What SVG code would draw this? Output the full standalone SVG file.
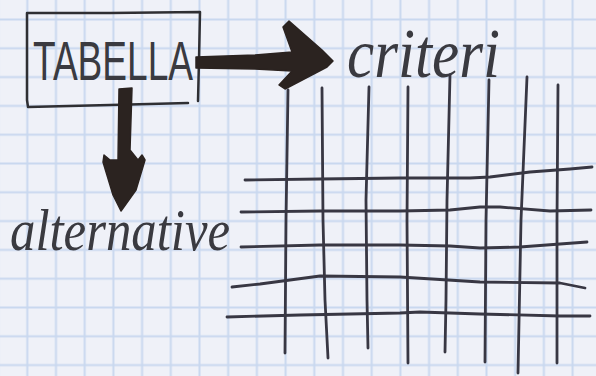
<svg xmlns="http://www.w3.org/2000/svg" width="596" height="376" viewBox="0 0 596 376">
  <defs>
    <pattern id="grid" patternUnits="userSpaceOnUse" x="12.95" y="5.1" width="28.7" height="28.8">
      <path d="M14.35,0 V28.8 M0,14.4 H28.7" stroke="#c9d8ef" stroke-width="2" fill="none"/>
    </pattern>
    <style>
      .ink { fill: none; stroke: #383743; stroke-width: 2.8; stroke-linecap: round; stroke-linejoin: round; }
      .pen { fill: none; stroke: #2f2f33; stroke-width: 2.5; stroke-linecap: round; stroke-linejoin: round; }
      .hand { font-family: "Liberation Serif", serif; font-style: italic; fill: #3a3a40; }
      .caps { font-family: "Liberation Sans", sans-serif; fill: #3a3a40; }
      .arrow { fill: #2b2320; stroke: #2b2320; stroke-width: 1.5; stroke-linejoin: round; }
    </style>
  </defs>

  <rect width="596" height="376" fill="#eff1f8"/>
  <rect width="596" height="376" fill="url(#grid)"/>

  <g id="node-tabella">
    <path class="pen" d="M27,13 L110,13 L200,12 L199,60 L198,101 M27,13 L27,100 L28,107 L110,105 L188,103"/>
    <text class="caps" x="33" y="80" font-size="56" textLength="160" lengthAdjust="spacingAndGlyphs">TABELLA</text>
  </g>

  <g id="node-criteri">
    <text class="hand" x="347" y="77" font-size="70" textLength="153" lengthAdjust="spacingAndGlyphs">criteri</text>
  </g>

  <g id="node-alternative">
    <text class="hand" x="10" y="250" font-size="60" textLength="220" lengthAdjust="spacingAndGlyphs">alternative</text>
  </g>

  <g id="node-matrix">
    <path class="ink" d="M288,90 L286,220 L285,353"/>
    <path class="ink" d="M322,88 L323,220 L325,300 L328,358"/>
    <path class="ink" d="M369,87 L366,200 L367,300 L368,348"/>
    <path class="ink" d="M408,87 L407,220 L408,363"/>
    <path class="ink" d="M450,75 L447,200 L446,300 L445,352"/>
    <path class="ink" d="M489,80 L486,220 L485,362"/>
    <path class="ink" d="M527,77 L521,220 L518,373"/>
    <path class="ink" d="M558,85 L557,220 L557,363"/>
    <path class="ink" d="M245,180 L320,179 L400,178 L470,178 L490,177 L530,172 L570,169 L592,167"/>
    <path class="ink" d="M241,212 L320,211 L400,211 L450,210 L480,207 L500,207 L550,211 L591,210"/>
    <path class="ink" d="M241,247 L320,245 L400,245 L450,246 L480,248 L520,247 L560,244 L587,242"/>
    <path class="ink" d="M232,287 L260,284 L320,276 L400,277 L480,282 L560,283 L585,288"/>
    <path class="ink" d="M227,317 L300,315 L400,313 L420,312 L480,314 L560,316 L590,316"/>
  </g>

  <g id="connectors">
    <path id="edge-tabella-criteri" class="arrow" d="M196,57 L255,55 L292,52 L283,27 L289,21 L322,50 L333,61 L327,67 L285,89 L279,85 L292,71 L255,69 L196,68 Z"/>
    <path id="edge-tabella-alternative" class="arrow" d="M119,89 L132,88 L130,150 L138,160 L142,155 L145,160 L136,190 L121,211 L113,195 L103,162 L104,155 L110,160 L118,160 Z"/>
  </g>
</svg>
